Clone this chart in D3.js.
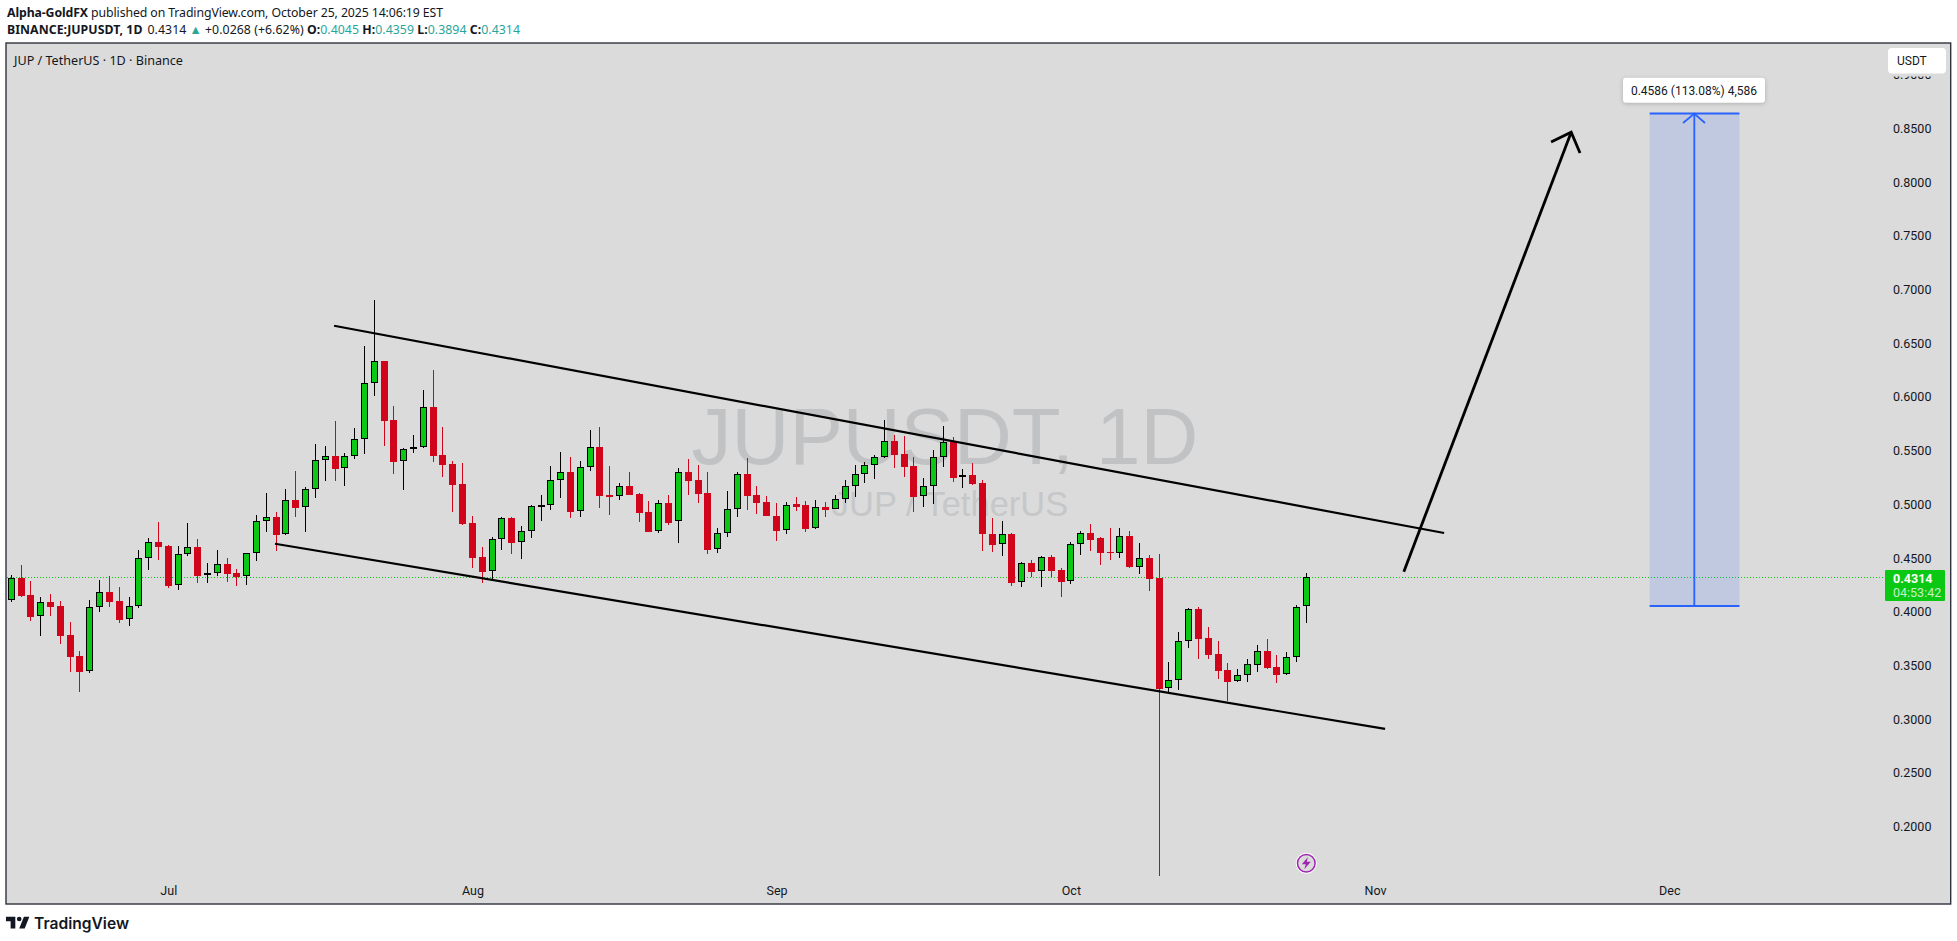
<!DOCTYPE html>
<html>
<head>
<meta charset="utf-8">
<title>JUPUSDT</title>
<script src="https://cdn.jsdelivr.net/npm/d3@7"></script>
<style>
  html, body { margin: 0; padding: 0; background: #fff; overflow: hidden; }
  svg { display: block; }
  text { font-family: "Noto Sans", sans-serif; }
  .axis text { font-family: Roboto, sans-serif; font-size: 12.5px; fill: #131722; }
</style>
</head>
<body>
<svg id="chart" width="1957" height="941"></svg>
<script>
// Candles, one per day starting 15 Jun 2025
const opens = [.4102,.4311,.4155,.3954,.4090,.4053,.3783,.3587,.3441,.4037,.4183,.4099,.3926,.4047,.4494,.4649,.4612,.4242,.4531,.4602,.4345,.4354,.4444,.4360,.4326,.4540,.4838,.4882,.4717,.5040,.4969,.5136,.5406,.5450,.5332,.5447,.5602,.6123,.6335,.5785,.5397,.5518,.5527,.5906,.5459,.5375,.5189,.4826,.4509,.4373,.4671,.4872,.4643,.4745,.4984,.4987,.5220,.5301,.4931,.5341,.5534,.5087,.5071,.5170,.5096,.4928,.4745,.5012,.4841,.5301,.5226,.5105,.4578,.4726,.4950,.5282,.5087,.5021,.4891,.4758,.5003,.4993,.4773,.4975,.4953,.5046,.5164,.5276,.5360,.5434,.5590,.5468,.5357,.5071,.5164,.5434,.5583,.5248,.5273,.5198,.4723,.4627,.4723,.4273,.4453,.4373,.4509,.4388,.4279,.4624,.4733,.4686,.4556,.4540,.4705,.4410,.4500,.4314,.3283,.3358,.3721,.4025,.3755,.3606,.3457,.3348,.3404,.3497,.3634,.3485,.3413,.3572,.4045];
const highs = [.4342,.4435,.4286,.4137,.4165,.4099,.3904,.3634,.4109,.4295,.4332,.4230,.4137,.4574,.4686,.4835,.4618,.4612,.4826,.4677,.4450,.4574,.4500,.4397,.4543,.4900,.5105,.4928,.5143,.5310,.5161,.5562,.5543,.5776,.5478,.5711,.6474,.6903,.6335,.5915,.5524,.5645,.6064,.6251,.5720,.5403,.5385,.4891,.4602,.4695,.4882,.4882,.4798,.4993,.5087,.5357,.5487,.5440,.5403,.5692,.5720,.5357,.5195,.5301,.5105,.5031,.5040,.5087,.5338,.5422,.5366,.5301,.4779,.5124,.5301,.5431,.5170,.5077,.5012,.5021,.5068,.5031,.5040,.5025,.5087,.5226,.5366,.5394,.5459,.5785,.5645,.5636,.5440,.5245,.5506,.5729,.5627,.5329,.5385,.5226,.4872,.4844,.4733,.4459,.4481,.4518,.4528,.4407,.4649,.4751,.4817,.4692,.4779,.4779,.4751,.4640,.4528,.4537,.3531,.3811,.4034,.4044,.3857,.3727,.3522,.3466,.3559,.3690,.3746,.3596,.3624,.4062,.4359];
const lows = [.4090,.4137,.3916,.3773,.3963,.3702,.3441,.3255,.3432,.4000,.4047,.3898,.3870,.4037,.4391,.4484,.4224,.4205,.4522,.4270,.4270,.4335,.4279,.4242,.4252,.4475,.4745,.4568,.4717,.4885,.4745,.5062,.5220,.5220,.5174,.5425,.5472,.6012,.5546,.5285,.5136,.5481,.5527,.5397,.5257,.4931,.4810,.4410,.4270,.4295,.4578,.4540,.4494,.4689,.4848,.4950,.5062,.4875,.4885,.5313,.4969,.4903,.5043,.5090,.4838,.4745,.4736,.4810,.4643,.5090,.5015,.4540,.4550,.4699,.4885,.4950,.4913,.4894,.4661,.4726,.4941,.4745,.4773,.4885,.4953,.5015,.5071,.5201,.5239,.5434,.5341,.5257,.4931,.4978,.5006,.5350,.5211,.5155,.5180,.4568,.4559,.4522,.4242,.4233,.4326,.4233,.4326,.4140,.4261,.4531,.4568,.4438,.4484,.4503,.4407,.4354,.4196,.1542,.3246,.3274,.3665,.3562,.3562,.3376,.3171,.3348,.3348,.3441,.3466,.3339,.3413,.3534,.3894];
const closes = [.4311,.4146,.3954,.4087,.4047,.3777,.3581,.3441,.4040,.4180,.4093,.3926,.4050,.4497,.4646,.4605,.4242,.4534,.4599,.4335,.4357,.4441,.4354,.4326,.4543,.4841,.4879,.4717,.5037,.4969,.5139,.5409,.5447,.5332,.5447,.5605,.6127,.6331,.5779,.5397,.5512,.5530,.5903,.5453,.5369,.5183,.4820,.4503,.4373,.4674,.4869,.4643,.4748,.4981,.4993,.5223,.5298,.4931,.5344,.5530,.5080,.5068,.5167,.5090,.4922,.4745,.5009,.4829,.5298,.5220,.5099,.4578,.4730,.4953,.5279,.5080,.5015,.4894,.4754,.4990,.4978,.4773,.4972,.4950,.5046,.5167,.5279,.5363,.5437,.5586,.5462,.5350,.5071,.5167,.5437,.5577,.5248,.5270,.5189,.4726,.4624,.4720,.4270,.4450,.4373,.4506,.4382,.4279,.4627,.4730,.4671,.4550,.4550,.4702,.4416,.4497,.4307,.3280,.3361,.3724,.4022,.3749,.3600,.3451,.3348,.3407,.3510,.3631,.3475,.3413,.3575,.4040,.4314];

const priceTicks = [.2,.25,.3,.35,.4,.45,.5,.55,.6,.65,.7,.75,.8,.85,.9];
const monthDays = [16, 47, 78, 108, 139, 169];
const monthLabels = ["Jul", "Aug", "Sep", "Oct", "Nov", "Dec"];
const lastPrice = 0.4314;

// Drawings: [day index, price]
const upperChannel = [[32.9, .6663], [146.05, .4733]];
const lowerChannel = [[26.88, .4633], [140.03, .2908]];
const bigArrow = [[141.94, .4373], [159.0, .8465]];
const bigArrowHead = [[156.95, .8374], [159.0, .8465], [159.9, .8272]];
const targetDays = [167.0, 171.55, 176.15];
const targetPrices = [.4053, .8639];
const targetHead = [[170.4, .8551], [171.55, .8639], [172.64, .8551]];
const flashPoint = [132, .1657];

const green = "#0ac814", red = "#d0041a", blue = "#2962ff";
const svg = d3.select("#chart");

const x = d3.scaleLinear().domain([0, 132]).range([11.3, 1306.3]);
const y = d3.scaleLinear().domain([.4, .85]).range([611.7, 128.5]);
const snap = v => Math.round(v - 0.5) + 0.5;
const line = d3.line().x(d => x(d[0])).y(d => y(d[1]));

// Header
const head = svg.append("g").attr("font-size", 12.3).attr("fill", "#131722");
const line1 = head.append("text").attr("x", 7).attr("y", 17).attr("textLength", 436);
line1.append("tspan").attr("font-weight", 700).text("Alpha-GoldFX");
line1.append("tspan").text(" published on TradingView.com, October 25, 2025 14:06:19 EST");
const line2 = head.append("text").attr("x", 7).attr("y", 34).attr("textLength", 513);
line2.append("tspan").attr("font-weight", 700).text("BINANCE:JUPUSDT, 1D");
line2.append("tspan").attr("dx", 5).text("0.4314 ");
line2.append("tspan").attr("fill", "#26a69a").text("▲");
line2.append("tspan").text(" +0.0268 (+6.62%) ");
[["O:", "0.4045 "], ["H:", "0.4359 "], ["L:", "0.3894 "], ["C:", "0.4314"]].forEach(d => {
  line2.append("tspan").attr("font-weight", 700).text(d[0]);
  line2.append("tspan").attr("fill", "#26a69a").text(d[1]);
});

// Pane
svg.append("rect").attr("x", 6).attr("y", 43).attr("width", 1944.7).attr("height", 861)
  .attr("fill", "#dbdbdb").attr("stroke", "#2f333e").attr("stroke-width", 1.4);

svg.append("text").attr("x", 14).attr("y", 65).attr("font-size", 12.6).attr("fill", "#131722")
  .text("JUP / TetherUS · 1D · Binance");

// Watermark
svg.append("text").attr("x", 945).attr("y", 464).attr("text-anchor", "middle")
  .style("font-family", "'Liberation Sans'").attr("font-size", 80).attr("fill", "#c1c2c4").text("JUPUSDT, 1D");
svg.append("text").attr("x", 950).attr("y", 516).attr("text-anchor", "middle")
  .style("font-family", "'Liberation Sans'").attr("font-size", 34.5).attr("fill", "#c6c7c9").text("JUP / TetherUS");

// Axes
const yAxis = svg.append("g").attr("class", "axis").attr("transform", "translate(1893,0)")
  .call(d3.axisRight(y).tickValues(priceTicks).tickFormat(d3.format(".4f")).tickSize(0).tickPadding(0));
yAxis.select(".domain").remove();

const xAxis = svg.append("g").attr("class", "axis").attr("transform", "translate(0,886)")
  .call(d3.axisBottom(x).tickValues(monthDays).tickFormat((d, i) => monthLabels[i]).tickSize(0).tickPadding(0));
xAxis.select(".domain").remove();

// Last price line
svg.append("line").attr("x1", 7).attr("x2", 1885).attr("y1", snap(y(lastPrice))).attr("y2", snap(y(lastPrice)))
  .attr("stroke", green).attr("stroke-width", 1).attr("stroke-dasharray", "1 2")
  .attr("shape-rendering", "crispEdges");

// Target box
svg.append("rect")
  .attr("x", x(targetDays[0])).attr("width", x(targetDays[2]) - x(targetDays[0]))
  .attr("y", y(targetPrices[1])).attr("height", y(targetPrices[0]) - y(targetPrices[1]))
  .attr("fill", blue).attr("fill-opacity", 0.15);
targetPrices.forEach(p => {
  svg.append("line").attr("x1", x(targetDays[0])).attr("x2", x(targetDays[2]))
    .attr("y1", y(p)).attr("y2", y(p)).attr("stroke", blue).attr("stroke-width", 2);
});
svg.append("line").attr("x1", x(targetDays[1])).attr("x2", x(targetDays[1]))
  .attr("y1", y(targetPrices[0])).attr("y2", y(targetPrices[1])).attr("stroke", blue).attr("stroke-width", 1.8);
svg.append("path").attr("d", line(targetHead)).attr("fill", "none").attr("stroke", blue).attr("stroke-width", 1.8);

// Candles
const candles = svg.append("g").attr("shape-rendering", "crispEdges").selectAll("g").data(opens).enter().append("g");
candles.each(function(o, i) {
  const g = d3.select(this), up = closes[i] >= o, cx = snap(x(i));
  g.append("line").attr("x1", cx).attr("x2", cx).attr("y1", y(highs[i])).attr("y2", y(lows[i]))
    .attr("stroke", up ? "#000" : red).attr("stroke-width", 1);
  const top = y(Math.max(o, closes[i])), bottom = y(Math.min(o, closes[i]));
  if (up) {
    g.append("rect").attr("x", cx - 3).attr("width", 6).attr("y", snap(top))
      .attr("height", Math.max(Math.round(bottom - top) - 1, 1)).attr("fill", green).attr("stroke", "#000").attr("stroke-width", 1);
  } else {
    g.append("rect").attr("x", cx - 3.5).attr("width", 7).attr("y", top)
      .attr("height", Math.max(bottom - top, 1.5)).attr("fill", red);
  }
});

// Channel and arrow
[upperChannel, lowerChannel].forEach(d => {
  svg.append("path").attr("d", line(d)).attr("fill", "none").attr("stroke", "#000").attr("stroke-width", 2.2);
});
[bigArrow, bigArrowHead].forEach(d => {
  svg.append("path").attr("d", line(d)).attr("fill", "none").attr("stroke", "#000").attr("stroke-width", 2.8);
});

// Target label
svg.append("rect").attr("x", 1623).attr("y", 77.7).attr("width", 142).attr("height", 25).attr("rx", 3)
  .attr("fill", "#fff").style("filter", "drop-shadow(0 1px 2px rgba(0,0,0,.2))");
svg.append("text").attr("x", 1694).attr("y", 94.5).attr("text-anchor", "middle").attr("font-size", 12)
  .style("font-family", "Roboto").attr("fill", "#131722").text("0.4586 (113.08%) 4,586");

// USDT button, sits over the clipped top tick
svg.append("rect").attr("x", 1885).attr("y", 44).attr("width", 64).attr("height", 32.5).attr("fill", "#dbdbdb");
svg.append("rect").attr("x", 1888).attr("y", 48).attr("width", 58).attr("height", 25.5).attr("rx", 4).attr("fill", "#fff");
svg.append("text").attr("x", 1897).attr("y", 65).attr("font-size", 12)
  .style("font-family", "Roboto").attr("fill", "#131722").text("USDT");

// Last price tag
svg.append("rect").attr("x", 1885).attr("y", 570).attr("width", 60).attr("height", 31).attr("rx", 1).attr("fill", green);
svg.append("text").attr("x", 1893).attr("y", 583).attr("font-size", 12.5).attr("font-weight", 700)
  .style("font-family", "Roboto").attr("fill", "#fff").text("0.4314");
svg.append("text").attr("x", 1893).attr("y", 597).attr("font-size", 12.5)
  .style("font-family", "Roboto").attr("fill", "#c4f2c7").text("04:53:42");

// Flash marker
const flash = svg.append("g").attr("transform", `translate(${x(flashPoint[0])},${y(flashPoint[1])})`);
flash.append("circle").attr("r", 10.5).attr("fill", "#fff");
flash.append("circle").attr("r", 8.8).attr("fill", "#dbdbdb").attr("stroke", "#9c27b0").attr("stroke-width", 1.5);
flash.append("path").attr("d", "M1.5 -6 L-4.5 1 L-0.5 1 L-2 6 L4.5 -1.5 L0.5 -1.5 Z").attr("fill", "#9c27b0");

// TradingView logo
svg.append("path").attr("transform", "translate(4.4,912) scale(0.78)")
  .attr("d", "M14 6H2v6h6v9h6V6Zm12 15h-7l6-15h7l-6 15Zm-7-9a3 3 0 1 0 0-6 3 3 0 0 0 0 6Z").attr("fill", "#131722");
svg.append("text").attr("x", 34).attr("y", 928.5).style("font-family", "Inter").attr("font-size", 15.6)
  .attr("font-weight", 600).attr("fill", "#131722").text("TradingView");
</script>
</body>
</html>
